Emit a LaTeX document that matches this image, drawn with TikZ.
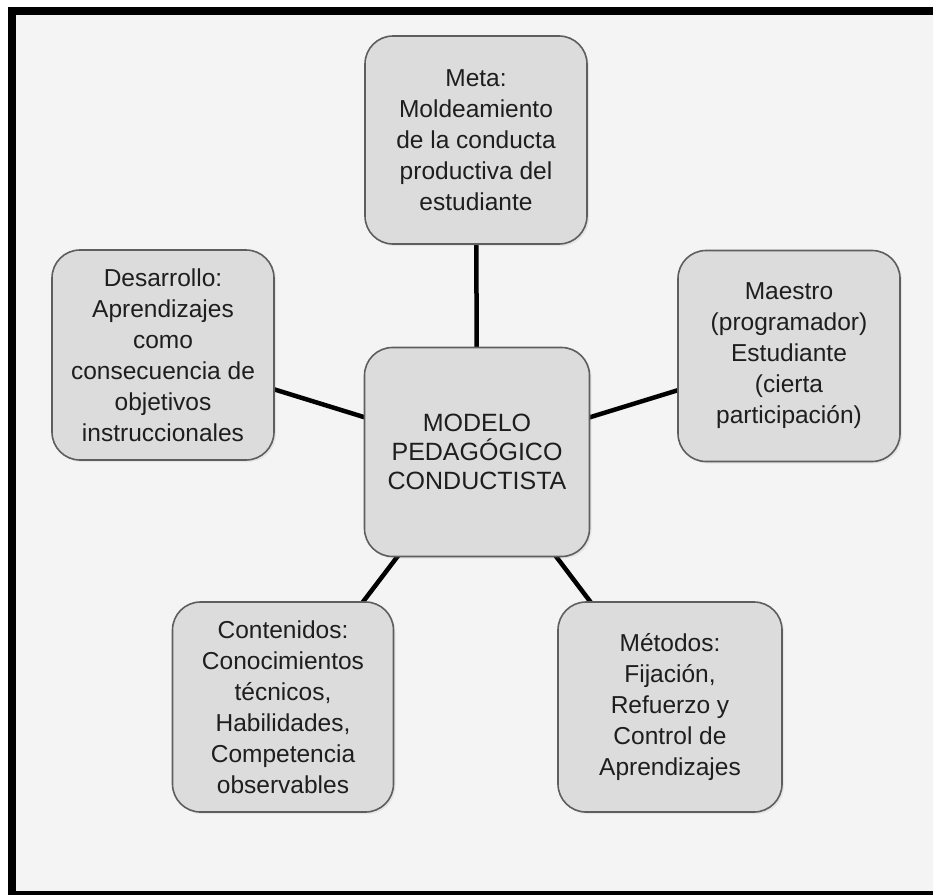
\documentclass[tikz,border=0pt]{standalone}
\usepackage{fontspec}
\setmainfont{Liberation Sans}
\usetikzlibrary{shadows}
\pgfdeclarelayer{back}
\pgfdeclarelayer{lines}
\pgfsetlayers{back,lines,main}
\definecolor{bgcol}{HTML}{F4F4F4}
\definecolor{boxfill}{HTML}{DCDCDC}
\definecolor{boxline}{HTML}{5E5E5E}
\definecolor{txt}{HTML}{1E1E1E}
\tikzset{
  box/.style={draw=boxline, line width=1.6pt, fill=boxfill, rounded corners=28pt,
    inner sep=0pt, align=center, text=txt,
    font=\fontsize{24.5}{31}\selectfont,
    drop shadow={opacity=0.12, shadow xshift=2pt, shadow yshift=-2pt}},
  link/.style={line width=4.5pt, black}
}
\begin{document}
\begin{tikzpicture}[x=1pt,y=-1pt]
\useasboundingbox (0,0) rectangle (933,894);
\begin{pgfonlayer}{back}
  \fill[white] (0,0) rectangle (933,894);
  \fill[black] (8,7) rectangle (950,910);
  \fill[bgcol] (16,15) rectangle (950,891);
\end{pgfonlayer}
\node[box, minimum width=222pt, minimum height=208pt] (meta) at (476,140)
  {Meta:\\Moldeamiento\\de la conducta\\productiva del\\estudiante};
\node[box, minimum width=225pt, minimum height=209pt, font=\fontsize{25}{29}\selectfont] (center) at (477,452)
  {MODELO\\PEDAGÓGICO\\CONDUCTISTA};
\node[box, minimum width=222pt, minimum height=211pt] (maestro) at (789,356)
  {Maestro\\(programador)\\Estudiante\\(cierta\\participación)};
\node[box, minimum width=222pt, minimum height=210pt] (desarrollo) at (163,355)
  {Desarrollo:\\Aprendizajes\\como\\consecuencia de\\objetivos\\instruccionales};
\node[box, minimum width=221pt, minimum height=210pt] (contenidos) at (283,707)
  {Contenidos:\\Conocimientos\\técnicos,\\Habilidades,\\Competencia\\observables};
\node[box, minimum width=224pt, minimum height=210pt] (metodos) at (670,707)
  {Métodos:\\Fijación,\\Refuerzo y\\Control de\\Aprendizajes};
\begin{pgfonlayer}{lines}
  \draw[link] (center.center) -- (meta.center);
  \draw[link] (center.center) -- (maestro.center);
  \draw[link] (center.center) -- (desarrollo.center);
  \draw[link] (center.center) -- (contenidos.center);
  \draw[link] (center.center) -- (metodos.center);
\end{pgfonlayer}
\end{tikzpicture}
\end{document}
